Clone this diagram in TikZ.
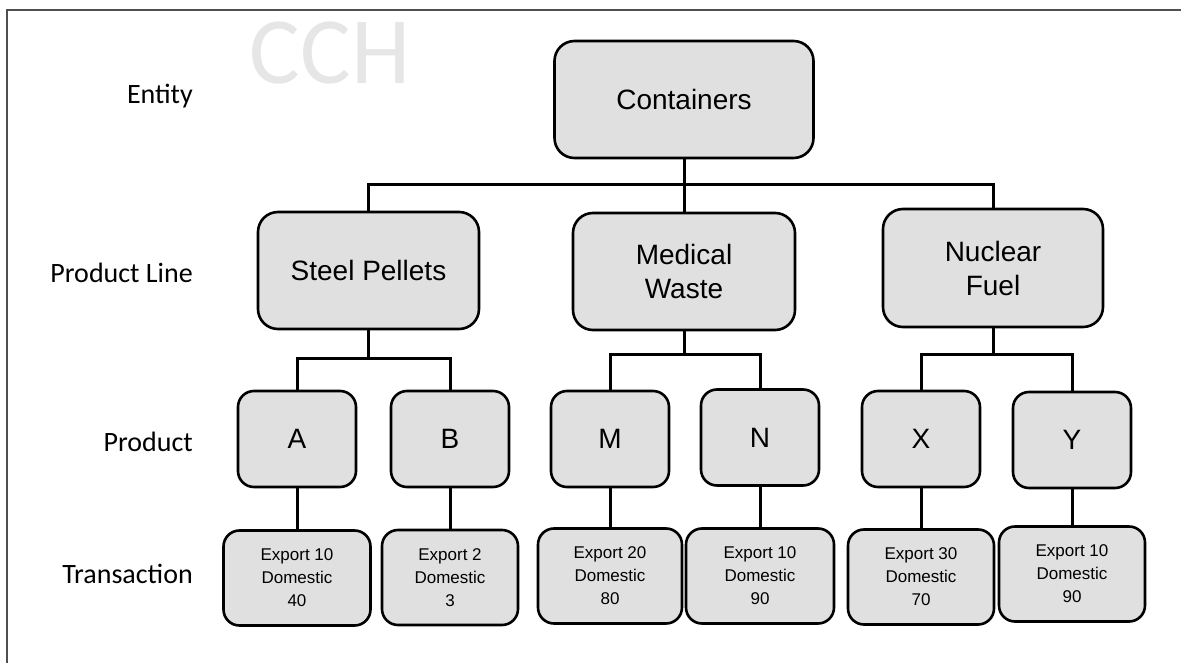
\documentclass[tikz,border=0pt]{standalone}
\usepackage{fontspec}
\setmainfont{Liberation Sans}
\newfontfamily\calfont{Carlito}
\definecolor{boxgray}{HTML}{E0E0E0}
\definecolor{markgray}{HTML}{E6E6E6}
\definecolor{framegray}{HTML}{505050}
\tikzset{
  bigbox/.style={draw, line width=2.6pt, fill=boxgray, rounded corners=20pt,
    align=center, inner sep=0pt, font=\fontsize{28}{34}\selectfont},
  prodbox/.style={bigbox, rounded corners=16pt, minimum width=118pt, minimum height=96pt},
  transbox/.style={bigbox, rounded corners=16pt, minimum height=95pt,
    font=\fontsize{17}{23}\selectfont},
  levellbl/.style={anchor=east, inner sep=0pt, font=\calfont\fontsize{28}{34}\selectfont},
  link/.style={line width=3pt}
}

\begin{document}
\begin{tikzpicture}[x=1pt, y=-1pt]
  \useasboundingbox (0,0) rectangle (1181,663);
  \draw[framegray, line width=1.6pt] (7,663) -- (7,10) -- (1181,10);
  \node[markgray, inner sep=0pt, font=\calfont\fontsize{95}{95}\selectfont] (mark) at (330,53) {CCH};

  % level labels
  \node[levellbl] (lentity) at (193,96) {Entity};
  \node[levellbl] (lline) at (193,273) {Product Line};
  \node[levellbl] (lprod) at (193,442) {Product};
  \node[levellbl] (ltrans) at (193,574) {Transaction};

  % entity and product lines
  \node[bigbox, minimum width=259pt, minimum height=117pt] (top) at (684,99.5) {Containers};
  \node[bigbox, minimum width=221pt, minimum height=117pt] (sp) at (368.5,270.5) {Steel Pellets};
  \node[bigbox, minimum width=222pt, minimum height=117pt] (mw) at (684,271.5) {Medical\\Waste};
  \node[bigbox, minimum width=220pt, minimum height=118pt] (nf) at (993,268) {Nuclear\\Fuel};

  % products
  \node[prodbox] (a) at (297,439) {A};
  \node[prodbox] (b) at (450,439) {B};
  \node[prodbox] (m) at (610,439) {M};
  \node[prodbox] (n) at (760,437.5) {N};
  \node[prodbox] (x) at (921,439) {X};
  \node[prodbox] (y) at (1072,440) {Y};

  % transactions
  \node[transbox, minimum width=147pt] (ta) at (297,578) {Export 10\\Domestic\\40};
  \node[transbox, minimum width=136pt] (tb) at (450,577.5) {Export 2\\Domestic\\3};
  \node[transbox, minimum width=144pt] (tm) at (610,576) {Export 20\\Domestic\\80};
  \node[transbox, minimum width=148pt] (tn) at (760,576) {Export 10\\Domestic\\90};
  \node[transbox, minimum width=146pt] (tx) at (921,577) {Export 30\\Domestic\\70};
  \node[transbox, minimum width=146pt] (ty) at (1072,574) {Export 10\\Domestic\\90};

  \draw[link] (top.south) -- ++(0,25) coordinate (topbus);
  \draw[link] (sp.north) |- (topbus) -| (nf.north)   (topbus) -- (mw.north);

  \draw[link] (sp.south) -- ++(0,28) coordinate (spbus);
  \draw[link] (a.north) |- (spbus) -| (b.north);
  \draw[link] (mw.south) -- ++(0,23) coordinate (mwbus);
  \draw[link] (m.north) |- (mwbus) -| (n.north);
  \draw[link] (nf.south) -- ++(0,26) coordinate (nfbus);
  \draw[link] (x.north) |- (nfbus) -| (y.north);

  \draw[link] (a) -- (ta)   (b) -- (tb)   (m) -- (tm)
              (n) -- (tn)   (x) -- (tx)   (y) -- (ty);
\end{tikzpicture}
\end{document}
